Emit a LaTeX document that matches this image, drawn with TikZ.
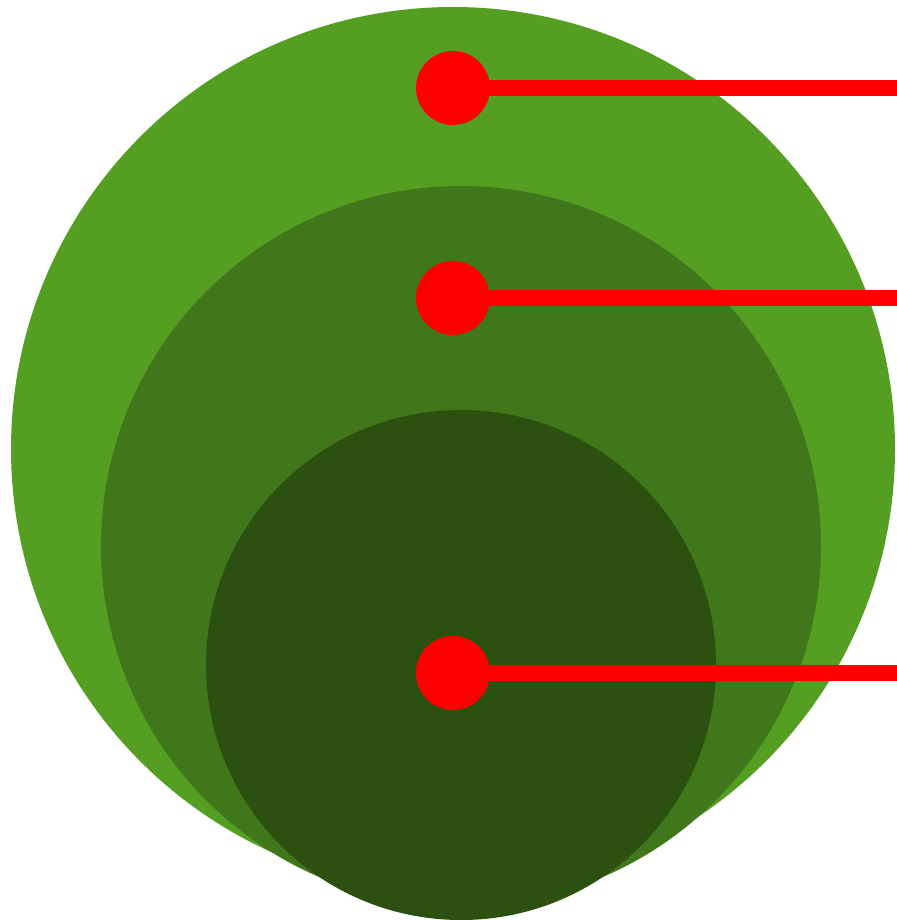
\documentclass[tikz,border=0pt]{standalone}
\definecolor{gOuter}{HTML}{549F22}
\definecolor{gMid}{HTML}{40771A}
\definecolor{gInner}{HTML}{2C5010}
\definecolor{pinred}{HTML}{FF0000}
\begin{document}
\begin{tikzpicture}[x=0.5pt,y=-0.5pt,
  disc/.style={circle,inner sep=0pt,outer sep=0pt},
  pin/.style={circle,fill=pinred,inner sep=0pt,outer sep=0pt,minimum size=37pt},
  pinline/.style={draw=pinred,line width=8pt}]
\useasboundingbox (0,0) rectangle (897,920);
\fill[gOuter] (453,449) circle[radius=221pt];
\fill[gMid] (461,546) circle[radius=180pt];
\fill[gInner] (461,665) circle[radius=127.5pt];
\node[pin] (p1) at (453,88) {};
\node[pin] (p2) at (453,298) {};
\node[pin] (p3) at (453,673) {};
\coordinate (e1) at (897,88);
\coordinate (e2) at (897,298);
\coordinate (e3) at (897,673);
\draw[pinline] (p1.center) -- (e1);
\draw[pinline] (p2.center) -- (e2);
\draw[pinline] (p3.center) -- (e3);
\end{tikzpicture}
\end{document}
